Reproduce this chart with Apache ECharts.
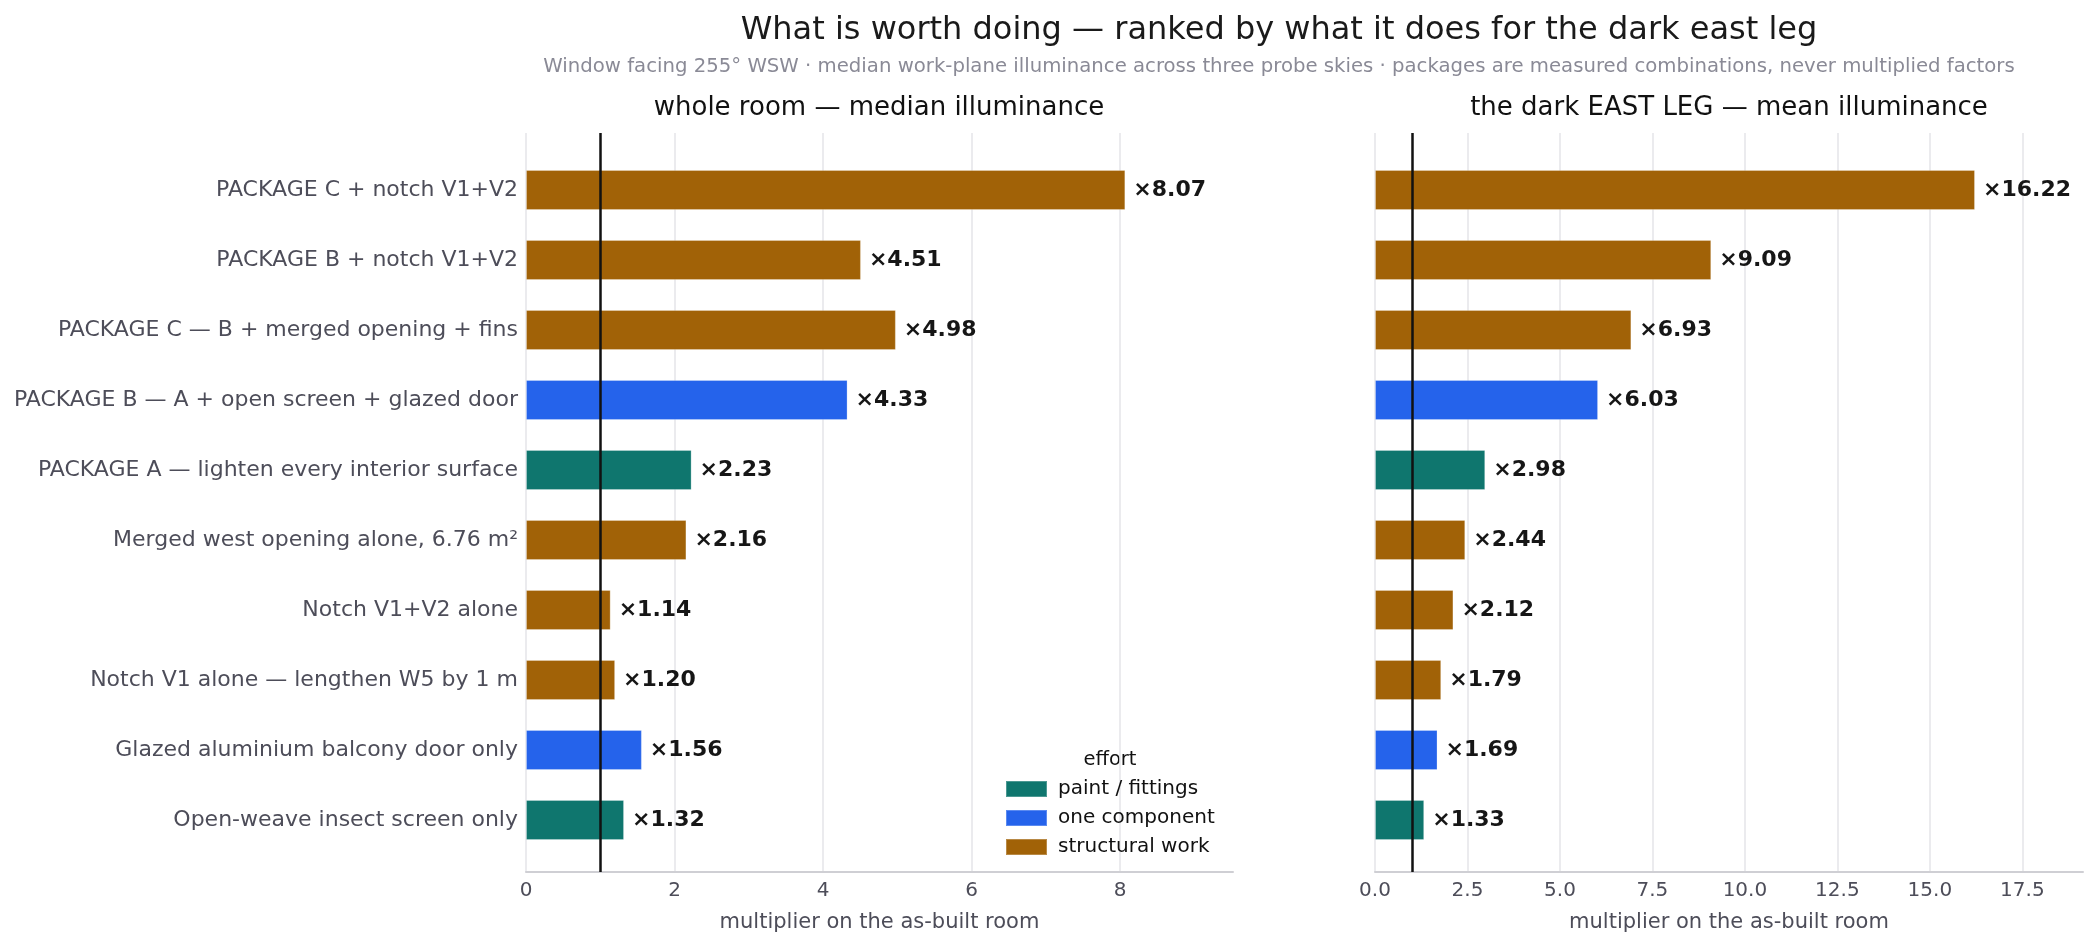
<!DOCTYPE html>
<html>
<head>
<meta charset="utf-8">
<script src="https://cdn.jsdelivr.net/npm/echarts@6/dist/echarts.min.js"></script>
<style>
  html, body { margin: 0; padding: 0; background: #ffffff; }
  #chart { width: 2098px; height: 944px; }
</style>
</head>
<body>
<div id="chart"></div>
<script>
// interventions, ranked top to bottom
const categories = [
  'PACKAGE C + notch V1+V2',
  'PACKAGE B + notch V1+V2',
  'PACKAGE C — B + merged opening + fins',
  'PACKAGE B — A + open screen + glazed door',
  'PACKAGE A — lighten every interior surface',
  'Merged west opening alone, 6.76 m²',
  'Notch V1+V2 alone',
  'Notch V1 alone — lengthen W5 by 1 m',
  'Glazed aluminium balcony door only',
  'Open-weave insect screen only'
];
const effort = ['structural', 'structural', 'structural', 'component', 'paint',
  'structural', 'structural', 'structural', 'component', 'paint'];
const wholeRoom = [8.07, 4.51, 4.98, 4.33, 2.23, 2.16, 1.14, 1.20, 1.56, 1.32];
const eastLeg = [16.22, 9.09, 6.93, 6.03, 2.98, 2.44, 2.12, 1.79, 1.69, 1.33];

const effortClasses = [
  { key: 'paint', name: 'paint / fittings', color: '#0f766e' },
  { key: 'component', name: 'one component', color: '#2563eb' },
  { key: 'structural', name: 'structural work', color: '#a16207' }
];

const chart = echarts.init(document.getElementById('chart'));

const font = 'DejaVu Sans';
const tickColor = '#4d4d59';

// one series per effort class, stacked so each bar sits centred in its row
function barSeries(values, axisIdx, stack) {
  return effortClasses.map(function (ec) {
    return {
      name: ec.name,
      type: 'bar',
      stack: stack,
      xAxisIndex: axisIdx,
      yAxisIndex: axisIdx,
      barWidth: 40,
      itemStyle: { color: ec.color, borderColor: 'rgba(255,255,255,0.25)', borderWidth: 1 },
      label: {
        show: true,
        position: 'right',
        distance: 8,
        formatter: function (p) { return '×' + p.value.toFixed(2); },
        fontFamily: font,
        fontWeight: 'bold',
        fontSize: 22,
        color: '#161616'
      },
      data: values.map(function (v, i) { return effort[i] === ec.key ? v : '-'; })
    };
  });
}

function refLine(axisIdx) {
  return {
    type: 'line',
    xAxisIndex: axisIdx,
    yAxisIndex: axisIdx,
    data: [],
    silent: true,
    markLine: {
      symbol: 'none',
      silent: true,
      label: { show: false },
      lineStyle: { color: '#111111', width: 2.5, type: 'solid' },
      data: [{ xAxis: 1 }]
    }
  };
}

function bgXAxis(grid, max, interval, fmt) {
  return {
    type: 'value',
    gridIndex: grid,
    min: 0,
    max: max,
    interval: interval,
    name: 'multiplier on the as-built room',
    nameLocation: 'middle',
    nameGap: 40,
    nameTextStyle: { fontFamily: font, fontSize: 21, color: tickColor },
    axisLine: { show: true, lineStyle: { color: '#cfcfd4', width: 2 } },
    axisTick: { show: false },
    axisLabel: {
      fontFamily: font, fontSize: 20, color: tickColor, margin: 9,
      showMaxLabel: false, formatter: fmt
    },
    splitLine: { show: true, showMaxLine: false, lineStyle: { color: '#e4e4e8', width: 1.5 } }
  };
}

function barXAxis(grid, max) {
  return { type: 'value', gridIndex: grid, min: 0, max: max, show: false };
}

function label(text, x, y, size, fill) {
  return {
    type: 'text',
    style: {
      text: text, x: x, y: y, textAlign: 'center', textVerticalAlign: 'middle',
      fontFamily: font, fontSize: size, fill: fill
    }
  };
}

const option = {
  backgroundColor: '#ffffff',
  animation: false,
  grid: [
    { left: 526, right: 865, top: 133, bottom: 72 },
    { left: 526, right: 865, top: 155, bottom: 89 },
    { left: 1375, right: 15, top: 133, bottom: 72 },
    { left: 1375, right: 15, top: 155, bottom: 89 }
  ],
  xAxis: [
    bgXAxis(0, 9.52, 2, function (v) { return String(v); }),
    barXAxis(1, 9.52),
    bgXAxis(2, 19.14, 2.5, function (v) { return v.toFixed(1); }),
    barXAxis(3, 19.14)
  ],
  yAxis: [
    { type: 'value', gridIndex: 0, min: 0, max: 1, show: false },
    {
      type: 'category', gridIndex: 1, inverse: true, data: categories,
      axisLine: { show: false }, axisTick: { show: false },
      axisLabel: { fontFamily: font, fontSize: 22, color: tickColor, margin: 8 }
    },
    { type: 'value', gridIndex: 2, min: 0, max: 1, show: false },
    {
      type: 'category', gridIndex: 3, inverse: true, data: categories,
      axisLine: { show: false }, axisTick: { show: false }, axisLabel: { show: false }
    }
  ],
  legend: {
    orient: 'vertical',
    left: 1005,
    top: 779,
    padding: 0,
    itemWidth: 41,
    itemHeight: 16,
    itemGap: 9,
    icon: 'rect',
    data: effortClasses.map(function (ec) { return ec.name; }),
    textStyle: { fontFamily: font, fontSize: 20, lineHeight: 16, color: '#111111', padding: [0, 0, 0, 6] }
  },
  graphic: [
    label('What is worth doing — ranked by what it does for the dark east leg', 1279, 31, 32, '#1a1a1a'),
    label('Window facing 255° WSW · median work-plane illuminance across three probe skies · packages are measured combinations, never multiplied factors',
      1279, 67, 19.7, '#8a8a96'),
    label('whole room — median illuminance', 879, 108, 26, '#111111'),
    label('the dark EAST LEG — mean illuminance', 1729, 108, 26, '#111111'),
    label('effort', 1110, 760, 19.5, '#111111')
  ],
  series: [].concat(
    barSeries(wholeRoom, 1, 'left'),
    [refLine(0)],
    barSeries(eastLeg, 3, 'right'),
    [refLine(2)]
  )
};

chart.setOption(option);
</script>
</body>
</html>
